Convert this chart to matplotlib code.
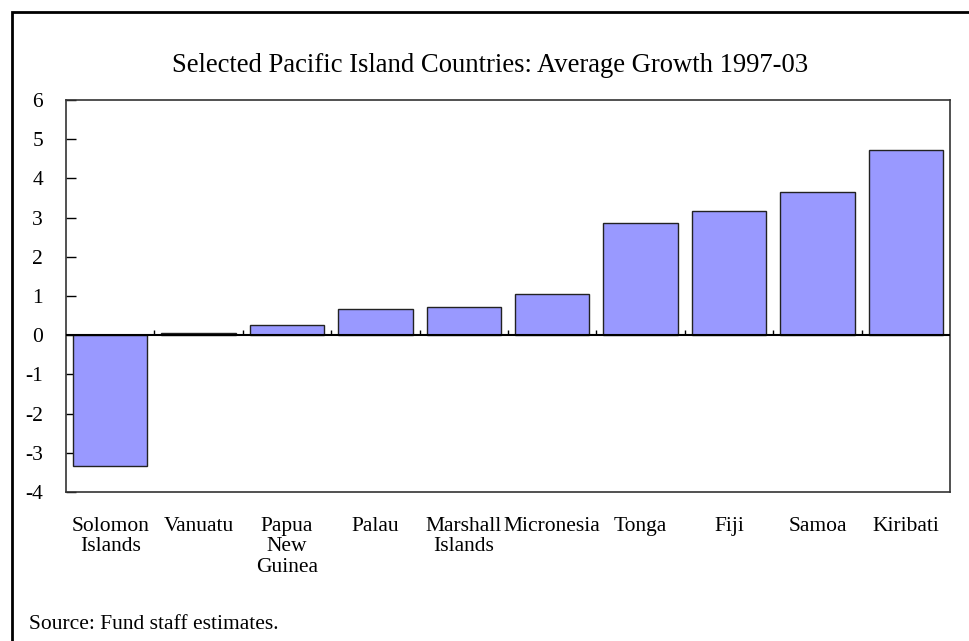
import matplotlib
matplotlib.use("Agg")
import matplotlib.pyplot as plt
import matplotlib.patches as mpatches
import numpy as np

countries = ["Solomon\nIslands", "Vanuatu", "Papua\nNew\nGuinea", "Palau", "Marshall\nIslands",
             "Micronesia", "Tonga", "Fiji", "Samoa", "Kiribati"]
growth = [-3.33, 0.06, 0.27, 0.66, 0.72, 1.06, 2.86, 3.16, 3.65, 4.72]
yticks = [-4, -3, -2, -1, 0, 1, 2, 3, 4, 5, 6]
title = "Selected Pacific Island Countries: Average Growth 1997-03"
source = "Source: Fund staff estimates."

plt.rcParams['font.family'] = ['Liberation Serif', 'DejaVu Serif']

W, H = 969, 641
fig = plt.figure(figsize=(W / 100, H / 100), dpi=100)
ax = fig.add_axes([66 / W, 1 - 492 / H, (950 - 66) / W, (492 - 100) / H])

x = np.arange(len(countries))
ax.bar(x, growth, width=0.84, color="#9999FF", edgecolor="#222222", linewidth=1.0, zorder=2)
ax.axhline(0, xmin=0, xmax=1, color="black", linewidth=1.5, zorder=4, clip_on=True)

# category-boundary ticks rising from the zero line
boundaries = np.arange(len(countries) - 1) + 0.5
tick_h = 5 / 392 * (yticks[-1] - yticks[0])
ax.vlines(boundaries, 0, tick_h, color="black", linewidth=1, zorder=4)

ax.set_xlim(-0.5, len(countries) - 0.5)
ax.set_ylim(yticks[0], yticks[-1])
ax.set_yticks(yticks)
ax.set_yticklabels([str(v) for v in yticks])
ax.set_xticks(x)
ax.set_xticklabels(countries, linespacing=1.1)
ax.tick_params(axis='x', length=0, pad=18, labelsize=15.5)
ax.tick_params(axis='y', direction='in', length=7, width=1, pad=16.5, labelsize=15.5)
for sp in ax.spines.values():
    sp.set_linewidth(1.2)
    sp.set_color("#333333")

fig.text(490 / W, 1 - 72 / H, title, ha='center', va='baseline', fontsize=19.2)
fig.text(29 / W, 1 - 629 / H, source, ha='left', va='baseline', fontsize=15.5)

border = mpatches.Rectangle((12 / W, -0.1), 1.0, 1 - 12 / H + 0.1, transform=fig.transFigure,
                            fill=False, linewidth=2, edgecolor="black")
fig.add_artist(border)

fig.savefig("out.png", dpi=100)
